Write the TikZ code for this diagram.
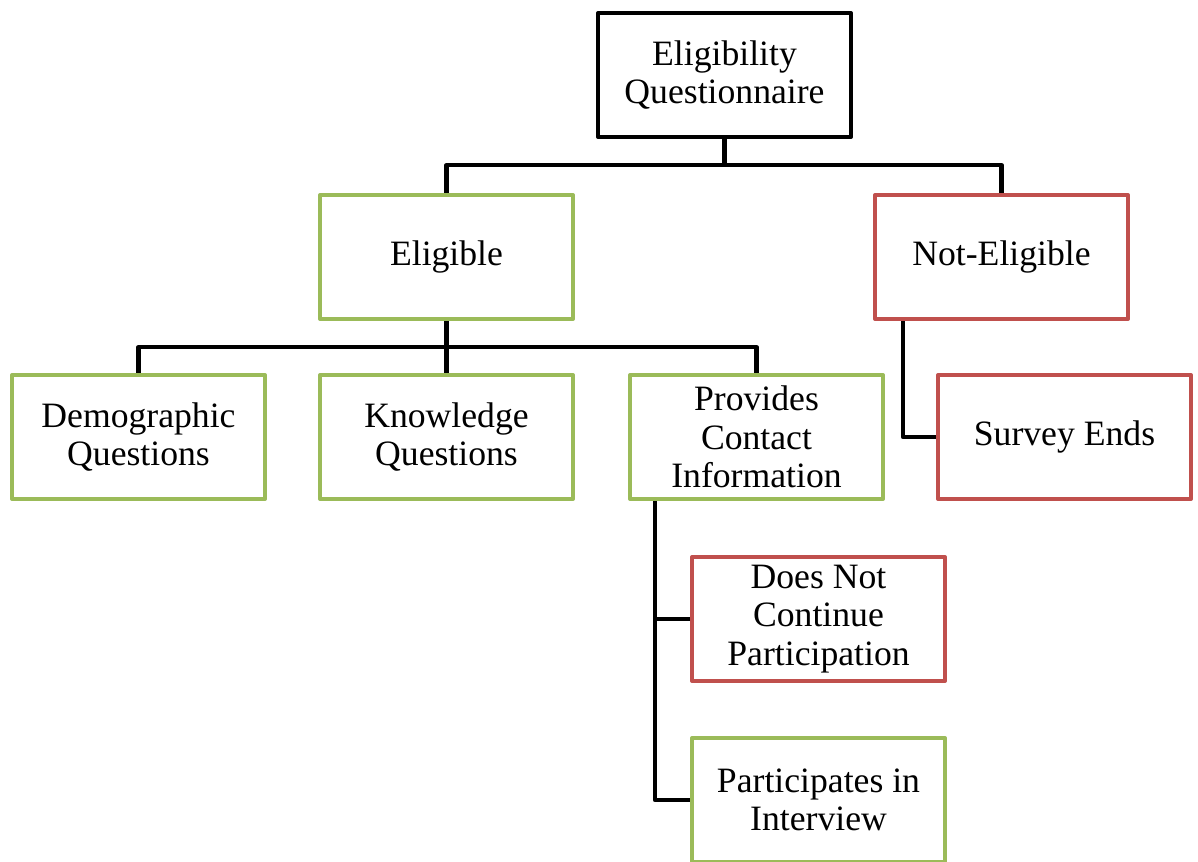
\documentclass[tikz,border=0pt]{standalone}
\usepackage{fontspec}
\setmainfont{Liberation Serif}
\usepackage{tikz}
\usetikzlibrary{positioning}

\definecolor{okgreen}{HTML}{9BBB59}
\definecolor{nored}{HTML}{C0504D}

\tikzset{
  stage/.style={rectangle, draw, line width=2.3pt, minimum width=5.06cm, minimum height=2.48cm,
    align=center, inner sep=2pt, font=\fontsize{20.3}{22}\selectfont, line join=round},
  yes/.style={stage, draw=okgreen},
  no/.style={stage, draw=nored},
  conn/.style={draw=black, line width=2.4pt, line join=round}
}

\begin{document}
\begin{tikzpicture}[x=0.02cm, y=-0.02cm]
  \useasboundingbox (0,0) rectangle (1198,862);

  % Questionnaire
  \node[stage] (quest) at (724.5,75) {Eligibility\\Questionnaire};

  % first level
  \node[yes] (elig) at (446.5,257) {Eligible};
  \node[no] (notelig) at (1001.5,257) {Not-Eligible};

  % second level
  \node[yes] (demo) at (138.5,437) {Demographic\\Questions};
  \node[yes] (know) at (446.5,437) {Knowledge\\Questions};
  \node[yes] (contact) at (756.5,437) {Provides\\Contact\\Information};
  \node[no] (ends) at (1064.5,437) {Survey Ends};

  % third level
  \node[no] (stop) at (818.5,619) {Does Not\\Continue\\Participation};
  \node[yes] (interview) at (818.5,800) {Participates in\\Interview};

  % connectors
  \draw[conn] (quest.south) -- ++(0,26) coordinate (qj);
  \draw[conn] (elig.north) |- (qj) -| (notelig.north);

  \draw[conn] (elig.south) -- ++(0,26) coordinate (ej);
  \draw[conn] (demo.north) |- (ej) -| (contact.north);
  \draw[conn] (know.north) -- (ej);

  \draw[conn] ([xshift=0.6cm]notelig.south west) |- (ends.west);

  \draw[conn] ([xshift=0.54cm]contact.south west) coordinate (cj) |- (interview.west);
  \draw[conn] (stop.west) -| (cj);
\end{tikzpicture}
\end{document}
